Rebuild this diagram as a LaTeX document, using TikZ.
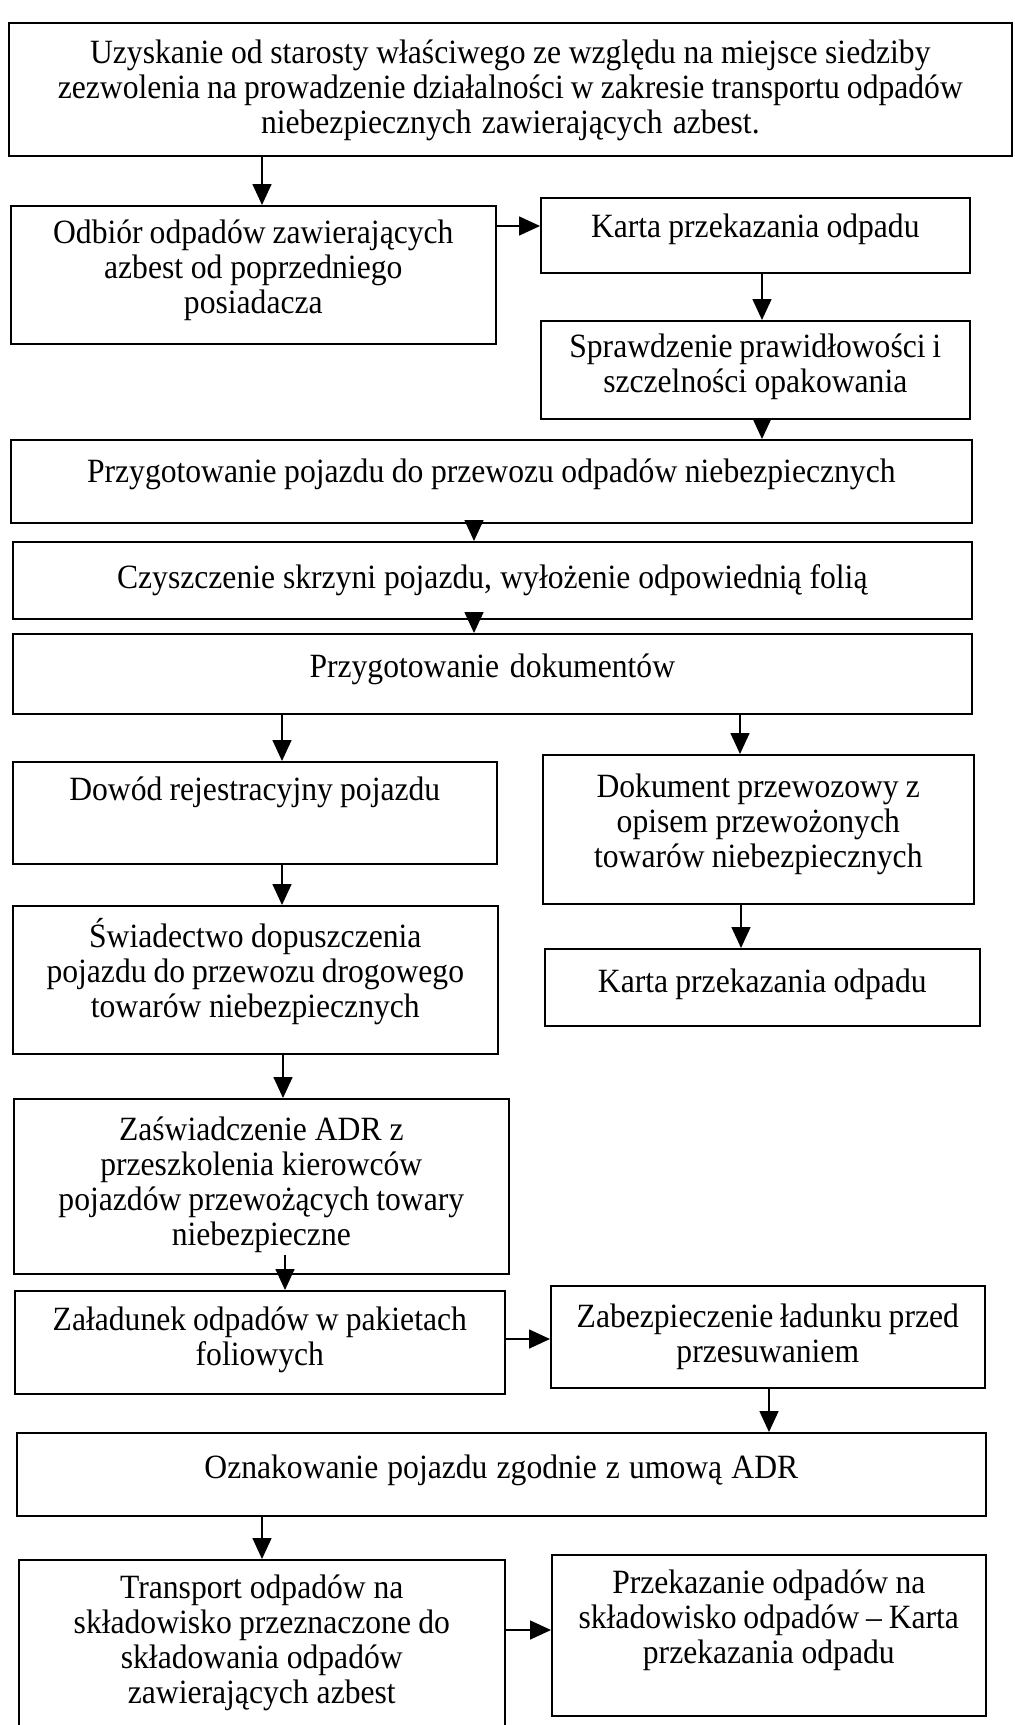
\documentclass[tikz,border=0pt]{standalone}
\usepackage{fontspec}
\setmainfont[FakeStretch=0.93]{Liberation Serif}
\usetikzlibrary{arrows.meta}
\begin{document}
\begin{tikzpicture}[x=1pt,y=-1pt,
  box/.style n args={3}{draw, line width=1.6pt, anchor=north west, inner sep=0pt,
    text width=#1, text height=#2, text depth=#3, align=center,
    font=\fontsize{34}{35}\selectfont,
    execute at begin node={\spaceskip=6.4pt plus 1pt minus 1pt\relax}},
  arr/.style={-{Triangle[length=21pt,width=19pt]}, line width=1.6pt}]
\fill[white] (0,0) rectangle (1015,1725);
\clip (0,0) rectangle (1015,1725);

% boxes: width, first baseline below top, remaining depth
\node[box={1003pt}{41pt}{92pt}] (b1) at (8,22)
  {Uzyskanie od starosty właściwego ze względu na miejsce siedziby\\
   zezwolenia na prowadzenie działalności w zakresie transportu odpadów\\
   niebezpiecznych zawierających azbest.};
\node[box={485pt}{38pt}{100pt}] (b2) at (10,205)
  {Odbiór odpadów zawierających\\ azbest od poprzedniego\\ posiadacza};
\node[box={429pt}{40pt}{35pt}] (b3) at (540,197)
  {Karta przekazania odpadu};
\node[box={429pt}{37pt}{61pt}] (b4) at (540,320)
  {Sprawdzenie prawidłowości i\\ szczelności opakowania};
\node[box={961pt}{43pt}{40pt}] (b5) at (10,439)
  {Przygotowanie pojazdu do przewozu odpadów niebezpiecznych};
\node[box={959pt}{47pt}{30pt}] (b6) at (12,541)
  {Czyszczenie skrzyni pojazdu, wyłożenie odpowiednią folią};
\node[box={959pt}{44pt}{36pt}] (b7) at (12,633)
  {Przygotowanie dokumentów};
\node[box={484pt}{39pt}{63pt}] (b8) at (12,761)
  {Dowód rejestracyjny pojazdu};
\node[box={431pt}{43pt}{106pt}] (b9) at (542,754)
  {Dokument przewozowy z\\ opisem przewożonych\\ towarów niebezpiecznych};
\node[box={485pt}{42pt}{106pt}] (b10) at (12,905)
  {Świadectwo dopuszczenia\\ pojazdu do przewozu drogowego\\ towarów niebezpiecznych};
\node[box={435pt}{44pt}{33pt}] (b11) at (544,948)
  {Karta przekazania odpadu};
\node[box={495pt}{42pt}{133pt}] (b12) at (13,1098)
  {Zaświadczenie ADR z\\ przeszkolenia kierowców\\ pojazdów przewożących towary\\ niebezpieczne};
\node[box={490pt}{40pt}{63pt}] (b13) at (14,1290)
  {Załadunek odpadów w pakietach\\ foliowych};
\node[box={434pt}{42pt}{60pt}] (b14) at (550,1285)
  {Zabezpieczenie ładunku przed\\ przesuwaniem};
\node[box={969pt}{46pt}{37pt}] (b15) at (16,1432)
  {Oznakowanie pojazdu zgodnie z umową ADR};
\node[box={486pt}{39pt}{151pt}] (b16) at (18,1559)
  {Transport odpadów na\\ składowisko przeznaczone do\\ składowania odpadów\\ zawierających azbest};
\node[box={434pt}{39pt}{122pt}] (b17) at (551,1554)
  {Przekazanie odpadów na\\ składowisko odpadów – Karta\\ przekazania odpadu};

% connectors
\draw[arr] ([xshift=254pt]b1.south west) -- ([xshift=252pt]b2.north west);
\draw[arr] ([yshift=-21pt]b2.north east) coordinate (a2s) -- (a2s -| b3.west);
\draw[arr] ([xshift=222pt]b3.south west) -- ([xshift=222pt]b4.north west);
\draw[arr] ([xshift=222pt]b4.south west) -- ([xshift=752pt]b5.north west);
\draw[arr] ([xshift=464pt]b5.south west) -- ([xshift=462pt]b6.north west);
\draw[arr] ([xshift=462pt]b6.south west) -- ([xshift=462pt]b7.north west);
\draw[arr] ([xshift=270pt]b7.south west) -- ([xshift=270pt]b8.north west);
\draw[arr] ([xshift=728pt]b7.south west) -- ([xshift=198pt]b9.north west);
\draw[arr] ([xshift=270pt]b8.south west) -- ([xshift=270pt]b10.north west);
\draw[arr] ([xshift=199pt]b9.south west) -- ([xshift=197pt]b11.north west);
\draw[arr] ([xshift=271pt]b10.south west) -- ([xshift=270pt]b12.north west);
\draw[arr] ([xshift=272pt,yshift=20pt]b12.south west) -- ([xshift=271pt]b13.north west);
\draw[arr] ([yshift=-49pt]b13.north east) coordinate (a12s) -- (a12s -| b14.west);
\draw[arr] ([xshift=219pt]b14.south west) -- ([xshift=753pt]b15.north west);
\draw[arr] ([xshift=246pt]b15.south west) -- ([xshift=244pt]b16.north west);
\draw[arr] ([yshift=-71pt]b16.north east) coordinate (a15s) -- (a15s -| b17.west);
\end{tikzpicture}
\end{document}
